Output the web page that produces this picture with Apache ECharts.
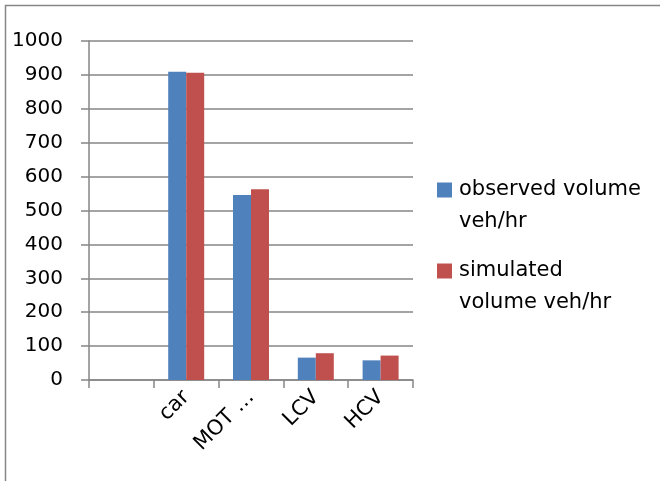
<!DOCTYPE html>
<html>
<head>
<meta charset="utf-8">
<script src="https://cdn.jsdelivr.net/npm/echarts@6/dist/echarts.min.js"></script>
<style>
html,body{margin:0;padding:0;background:#fff;}
#c{width:660px;height:481px;}
</style>
</head>
<body>
<div id="c"></div>
<script>
const categories = ['', 'car', 'MOT …', 'LCV', 'HCV'];
const observed = [null, 909, 546, 66, 58];
const simulated = [null, 906, 563, 79, 72];
const yTicks = [0, 1000, 100];
const seriesNames = ['observed volume veh/hr', 'simulated volume veh/hr'];
const legendLabels = ['observed volume\nveh/hr', 'simulated\nvolume veh/hr'];

const FONT = 'DejaVu Sans';
const GRAY = '#868686';
const chart = echarts.init(document.getElementById('c'), null, {renderer: 'canvas'});
chart.setOption({
  animation: false,
  backgroundColor: '#fff',
  textStyle: {fontFamily: FONT},
  graphic: [{
    type: 'rect', silent: true, z: -1,
    shape: {x: 5.5, y: 5.5, width: 700, height: 520},
    style: {fill: 'none', stroke: GRAY, lineWidth: 1.5}
  }],
  grid: {left: 89, right: 247, top: 41, bottom: 101, containLabel: false},
  legend: {
    orient: 'vertical',
    left: 437,
    top: 142,
    padding: 0,
    itemWidth: 15,
    itemHeight: 15,
    itemGap: -15,
    icon: 'rect',
    data: seriesNames,
    formatter: function (name) { return '\n' + legendLabels[seriesNames.indexOf(name)]; },
    textStyle: {fontFamily: FONT, fontSize: 21, color: '#000', lineHeight: 32, padding: [0, 0, 0, 2]}
  },
  xAxis: {
    type: 'category',
    data: categories,
    boundaryGap: true,
    axisLine: {show: true, lineStyle: {color: GRAY, width: 1.5}},
    axisTick: {show: true, length: 8, alignWithLabel: false, interval: 0, lineStyle: {color: GRAY, width: 1.5}},
    axisLabel: {rotate: 45, interval: 0, margin: 14, fontFamily: FONT, fontSize: 21, color: '#000'},
    splitLine: {show: false}
  },
  yAxis: {
    type: 'value',
    min: yTicks[0], max: yTicks[1], interval: yTicks[2],
    axisLine: {show: true, lineStyle: {color: GRAY, width: 1.5}},
    axisTick: {show: true, length: 8, lineStyle: {color: GRAY, width: 1.5}},
    axisLabel: {margin: 26, fontFamily: FONT, fontSize: 20, color: '#000', formatter: function (v) { return String(v); }},
    splitLine: {show: true, lineStyle: {color: GRAY, width: 1.5}}
  },
  series: [{
    name: seriesNames[0], type: 'bar', data: observed,
    barWidth: 18, barGap: '0%',
    itemStyle: {color: '#4F81BD'}
  }, {
    name: seriesNames[1], type: 'bar', data: simulated,
    barWidth: 18, barGap: '0%',
    itemStyle: {color: '#C0504D'}
  }]
});
</script>
</body>
</html>
